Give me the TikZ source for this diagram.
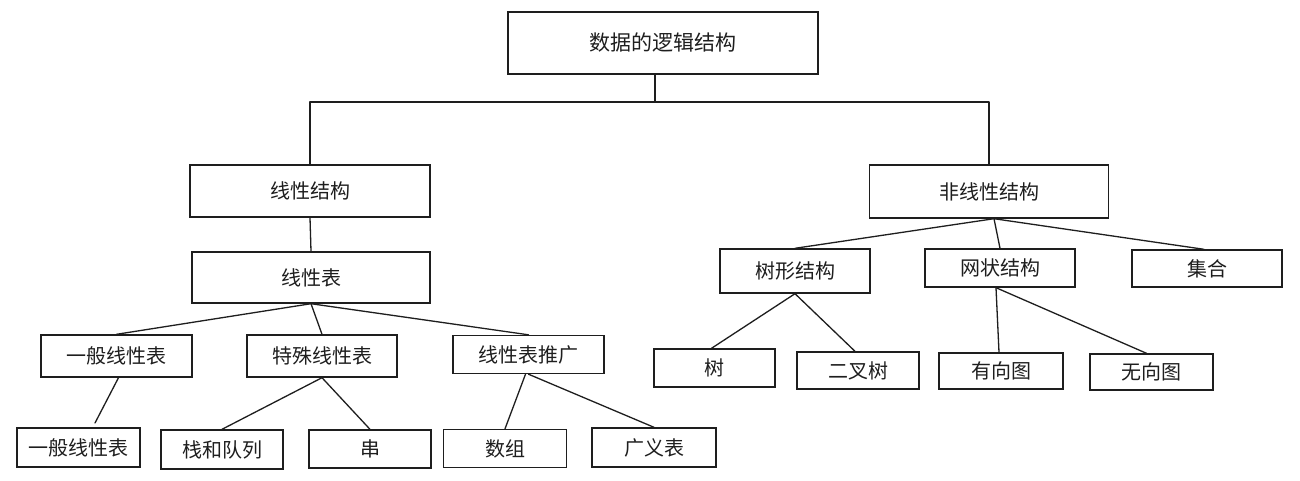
\documentclass[tikz,border=0pt]{standalone}
\usepackage{fontspec}
\newfontfamily\cjk{Noto Sans CJK SC}
\definecolor{ink}{HTML}{1E1E1E}
\tikzset{
  bx/.style={draw=ink, line width=1.4pt, inner sep=0pt, text=ink,
    font=\cjk\fontsize{20}{24}\selectfont, fill=white},
  con/.style={draw=ink, line width=1.3pt, line cap=round, line join=round},
}
\begin{document}
\begin{tikzpicture}[x=1pt,y=-1pt]
\useasboundingbox[fill=white] (0,0) rectangle (1300,480);
% level 0
\node[bx, minimum width=310, minimum height=62, font=\cjk\fontsize{21}{24}\selectfont] (root) at (663,43) {数据的逻辑结构};
% level 1
\node[bx, minimum width=240, minimum height=52] (lin) at (310,191) {线性结构};
\node[bx, minimum width=239, minimum height=53] (nonlin) at (989,191.5) {非线性结构};
% linear
\node[bx, minimum width=238, minimum height=51] (lt) at (311,277.5) {线性表};
\node[bx, minimum width=151, minimum height=42] (g1) at (116.5,356) {一般线性表};
\node[bx, minimum width=150, minimum height=42] (ts) at (322,356) {特殊线性表};
\node[bx, minimum width=151, minimum height=38] (tg) at (528.5,354.5) {线性表推广};
\node[bx, minimum width=123, minimum height=39] (g2) at (78.5,447.5) {一般线性表};
\node[bx, minimum width=122, minimum height=39] (zd) at (222,449.5) {栈和队列};
\node[bx, minimum width=122, minimum height=38] (ch) at (370,449) {串};
\node[bx, minimum width=123, minimum height=38] (sz) at (505,448.5) {数组};
\node[bx, minimum width=124, minimum height=39] (gy) at (654,447.5) {广义表};
% non-linear
\node[bx, minimum width=150, minimum height=44] (sx) at (795,271) {树形结构};
\node[bx, minimum width=150, minimum height=38] (wz) at (1000,268) {网状结构};
\node[bx, minimum width=150, minimum height=37] (jh) at (1207,268.5) {集合};
\node[bx, minimum width=121, minimum height=38] (shu) at (714.5,368) {树};
\node[bx, minimum width=122, minimum height=37] (ecs) at (858,370.5) {二叉树};
\node[bx, minimum width=124, minimum height=36] (yx) at (1001,371) {有向图};
\node[bx, minimum width=123, minimum height=36] (wx) at (1151.5,372) {无向图};
% connectors
\coordinate (bus) at (655,102);
\coordinate (g2top) at (95,423);
\draw[con] (bus |- root.south) -- (bus);
\draw[con] (lin.north) |- (bus) -| (nonlin.north);
\draw[con] (lin.south) -- (lt.north);
\draw[con] (lt.south) -- (g1.north);
\draw[con] (lt.south) -- (ts.north);
\draw[con] (lt.south) -- (tg.north);
\draw[con] ([xshift=2pt]g1.south) -- (g2top);
\draw[con] (ts.south) -- (zd.north);
\draw[con] (ts.south) -- (ch.north);
\draw[con] ([xshift=-3pt]tg.south) -- (sz.north);
\draw[con] (tg.south) -- (gy.north);
\draw[con] ([xshift=5pt]nonlin.south) -- (sx.north);
\draw[con] ([xshift=5pt]nonlin.south) -- (wz.north);
\draw[con] ([xshift=5pt]nonlin.south) -- ([xshift=-3pt]jh.north);
\draw[con] (sx.south) -- ([xshift=-3pt]shu.north);
\draw[con] (sx.south) -- ([xshift=-3pt]ecs.north);
\draw[con] ([xshift=-4pt]wz.south) -- ([xshift=-2pt]yx.north);
\draw[con] ([xshift=-4pt]wz.south) -- ([xshift=-5pt]wx.north);
\end{tikzpicture}
\end{document}
